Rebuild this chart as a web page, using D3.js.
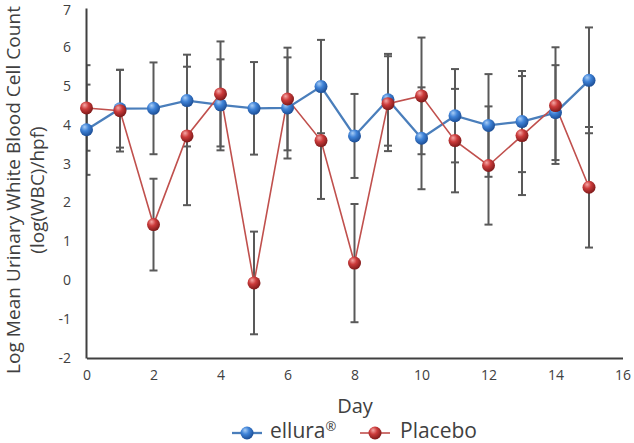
<!DOCTYPE html>
<html><head><meta charset="utf-8">
<script src="https://cdn.jsdelivr.net/npm/d3@7"></script>
<style>body{margin:0;background:#fff}svg{display:block}text{font-family:"Open Sans",sans-serif;fill:#404040}</style>
</head><body><svg id="c" width="634" height="443"></svg>
<script>
const days = [0,1,2,3,4,5,6,7,8,9,10,11,12,13,14,15];
const ellura = [3.87,4.41,4.42,4.62,4.51,4.42,4.43,4.98,3.71,4.64,3.65,4.23,3.98,4.08,4.31,5.14];
const elluraErr = [1.16,1.0,1.18,1.18,1.17,1.19,1.3,1.2,1.08,1.18,1.31,1.2,1.32,1.3,1.22,1.36];
const placebo = [4.43,4.36,1.43,3.71,4.79,-0.07,4.66,3.59,0.44,4.54,4.74,3.59,2.95,3.72,4.49,2.39];
const placeboErr = [1.1,1.05,1.18,1.78,1.35,1.32,1.32,1.5,1.52,1.22,1.5,1.33,1.52,1.53,1.5,1.55];
const xTicks = [0,2,4,6,8,10,12,14,16];
const yTicks = [-2,-1,0,1,2,3,4,5,6,7];
const seriesNames = ["ellura","Placebo"];

const svg = d3.select("#c");
const x = d3.scaleLinear().domain([0,16]).range([86.5,622.5]);
const y = d3.scaleLinear().domain([-2,7]).range([358,8]);

const defs = svg.append("defs");
function grad(id, hi, mid, lo){
  const g = defs.append("radialGradient").attr("id",id).attr("cx","40%").attr("cy","35%").attr("r","65%").attr("fx","35%").attr("fy","28%");
  g.append("stop").attr("offset","0%").attr("stop-color",hi);
  g.append("stop").attr("offset","45%").attr("stop-color",mid);
  g.append("stop").attr("offset","100%").attr("stop-color",lo);
}
grad("gBlue","#a9cdf5","#3f83d8","#1c4e96");
grad("gRed","#f5a8a6","#cc3b3b","#7e1a1a");
defs.append("clipPath").attr("id","plotClip").append("rect").attr("x",86).attr("y",0).attr("width",548).attr("height",443);

const series = [
  {name:seriesNames[0], sup:"®", vals:ellura, err:elluraErr, line:"#4a7ebb", lw:2.3, fill:"url(#gBlue)"},
  {name:seriesNames[1], sup:"", vals:placebo, err:placeboErr, line:"#c0504d", lw:1.6, fill:"url(#gRed)"}
];

// error bars
const eb = svg.append("g").attr("clip-path","url(#plotClip)").attr("stroke","#595959").attr("stroke-width",2);
series.forEach(s=>{
  days.forEach((d,i)=>{
    const cx = x(d), hi = y(s.vals[i]+s.err[i]), lo = y(s.vals[i]-s.err[i]);
    eb.append("line").attr("x1",cx).attr("x2",cx).attr("y1",hi).attr("y2",lo);
    eb.append("line").attr("x1",cx-4).attr("x2",cx+4).attr("y1",hi).attr("y2",hi);
    eb.append("line").attr("x1",cx-4).attr("x2",cx+4).attr("y1",lo).attr("y2",lo);
  });
});

// axes
const yAxis = d3.axisLeft(y).tickValues(yTicks).tickSize(0).tickPadding(15).tickFormat(d=>String(d));
const gy = svg.append("g").attr("transform","translate(86,0)").call(yAxis);
gy.select(".domain").attr("stroke","#404040").attr("stroke-width",2);
gy.selectAll("text").attr("font-size",14).style("font-family","'Open Sans',sans-serif").attr("fill","#404040");
gy.selectAll(".tick").filter(d=>d===7).select("text").attr("dy","0.45em");
const xAxis = d3.axisBottom(x).tickValues(xTicks).tickSize(0).tickPadding(12).tickFormat(d=>String(d));
const gx = svg.append("g").attr("transform","translate(0,358)").call(xAxis);
gx.select(".domain").attr("stroke","#404040").attr("stroke-width",2.2);
gx.selectAll("text").attr("font-size",14).style("font-family","'Open Sans',sans-serif").attr("fill","#404040");

// lines and dots
series.forEach(s=>{
  const line = d3.line().x((d,i)=>x(days[i])).y(d=>y(d));
  svg.append("path").datum(s.vals).attr("d",line).attr("fill","none").attr("stroke",s.line).attr("stroke-width",s.lw);
});
series.forEach(s=>{
  svg.append("g").selectAll("circle").data(s.vals).join("circle")
    .attr("cx",(d,i)=>x(days[i])).attr("cy",d=>y(d)).attr("r",6.5).attr("fill",s.fill);
});

// titles
svg.append("text").attr("x",355).attr("y",413).attr("text-anchor","middle").attr("font-size",20).text("Day");
const yt = svg.append("text").attr("transform","translate(20,190) rotate(-90)").attr("text-anchor","middle").attr("font-size",19);
yt.append("tspan").attr("x",0).attr("y",0).attr("textLength",368).attr("lengthAdjust","spacing").text("Log Mean Urinary White Blood Cell Count");
yt.append("tspan").attr("x",0).attr("y",24).text("(log(WBC)/hpf)");

// legend
const leg = [{x0:232, tx:270, s:series[0]},{x0:360, tx:400, s:series[1]}];
leg.forEach(l=>{
  svg.append("line").attr("x1",l.x0).attr("x2",l.x0+30).attr("y1",433).attr("y2",433).attr("stroke",l.s.line).attr("stroke-width",l.s.lw);
  svg.append("circle").attr("cx",l.x0+15).attr("cy",433).attr("r",6.5).attr("fill",l.s.fill);
  const t = svg.append("text").attr("x",l.tx).attr("y",438).attr("font-size",21).text(l.s.name);
  if (l.s.sup) t.append("tspan").attr("font-size",13).attr("dy",-7).text(l.s.sup);
});
</script></body></html>
